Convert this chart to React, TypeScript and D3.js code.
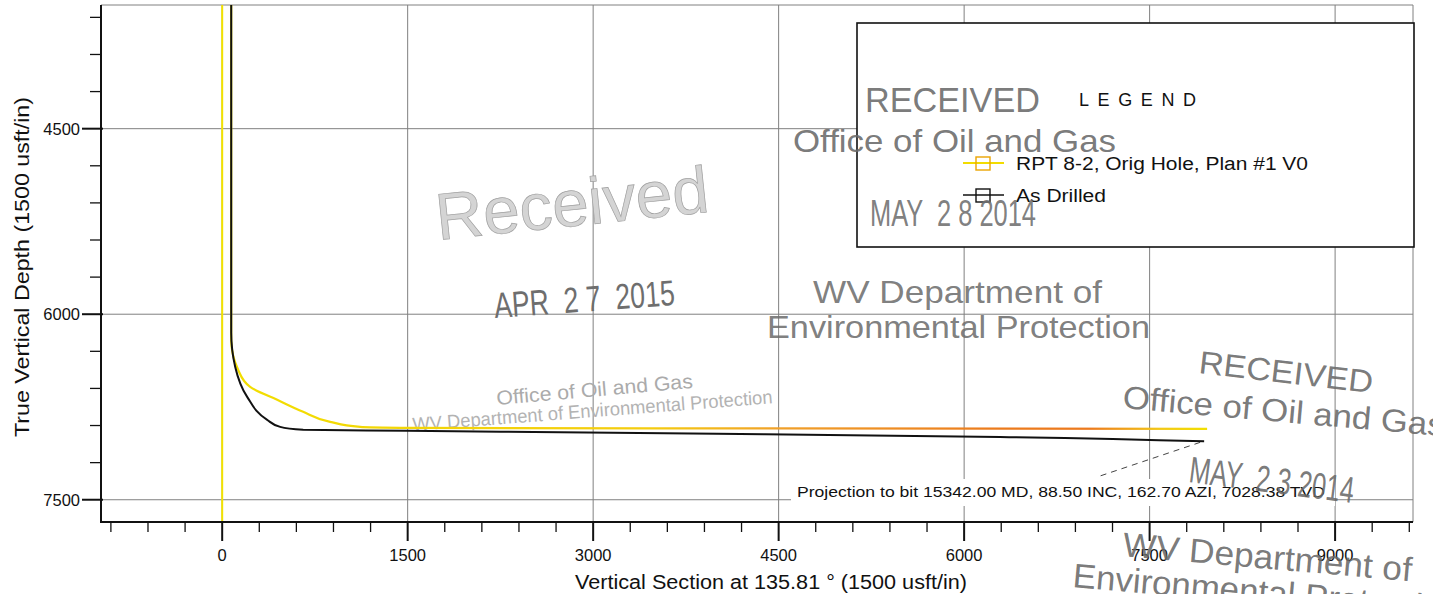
import React from 'react';
import * as d3 from 'd3';

const W = 1433;
const H = 594;

// axis domains (usft)
const xDomain = [-980, 9630];
const yDomain = [3500, 7680];

const xMajorTicks = [0, 1500, 3000, 4500, 6000, 7500, 9000];
const xMinorTicks = [-900, -600, -300, 300, 600, 900, 1200, 1800, 2100, 2400, 2700, 3300, 3600, 3900, 4200, 4800, 5100, 5400, 5700, 6300, 6600, 6900, 7200, 7800, 8100, 8400, 8700, 9300, 9600];
const yMajorTicks = [4500, 6000, 7500];
const yMinorTicks = [3600, 3900, 4200, 4800, 5100, 5400, 5700, 6300, 6600, 6900, 7200];

// Plan: RPT 8-2, Orig Hole, Plan #1 V0
const planVS = [73, 73, 129, 226, 445, 655, 873, 1116, 1520, 4000, 7965];
const planTVD = [3500, 6206, 6449, 6587, 6692, 6789, 6870, 6911, 6919, 6923, 6927];

// As Drilled
const drilledVS = [73, 73, 105, 202, 364, 469, 655, 1496, 4000, 6291, 7941];
const drilledTVD = [3500, 6149, 6424, 6668, 6854, 6911, 6935, 6943, 6967, 6992, 7028];

// vertical section origin line
const originVS = [0, 0];
const originTVD = [3500, 7680];

const legendLabels = ['RPT 8-2, Orig Hole, Plan #1 V0', 'As Drilled'];
const projectionText = 'Projection to bit 15342.00 MD, 88.50 INC, 162.70 AZI, 7028.38 TVD';

const FONT = "'Liberation Sans', Arial, Helvetica, sans-serif";

type Stamp = { t: string; x: number; y: number; r: number; fs: number; len: number; c: string; sw?: number };
const stamps: Stamp[] = [
  { t: 'Received', x: 438, y: 240, r: -5.9, fs: 66, len: 274, c: '#d4d4d4', sw: 0.7 },
  { t: 'APR  2 7  2015', x: 495, y: 318, r: -4.1, fs: 36, len: 181, c: '#6e6e6e' },
  { t: 'Office of Oil and Gas', x: 497, y: 405, r: -5, fs: 20, len: 197, c: '#ababab' },
  { t: 'WV Department of Environmental Protection', x: 413, y: 431, r: -4.4, fs: 19, len: 361, c: '#b3b3b3' },
  { t: 'RECEIVED', x: 865, y: 112, r: 0, fs: 35, len: 175, c: '#6a6a6a' },
  { t: 'Office of Oil and Gas', x: 793, y: 152, r: 0, fs: 32, len: 323, c: '#6a6a6a' },
  { t: 'MAY  2 8 2014', x: 870, y: 226, r: 0, fs: 37, len: 166, c: '#707070' },
  { t: 'WV Department of', x: 813, y: 303, r: 0, fs: 32, len: 289, c: '#707070' },
  { t: 'Environmental Protection', x: 767, y: 338, r: 0, fs: 32, len: 383, c: '#707070' },
  { t: 'RECEIVED', x: 1198, y: 373, r: 6.6, fs: 32, len: 175, c: '#6a6a6a' },
  { t: 'Office of Oil and Gas', x: 1122, y: 408, r: 5, fs: 32, len: 323, c: '#6a6a6a' },
  { t: 'MAY  2 3 2014', x: 1188, y: 482, r: 7.3, fs: 37, len: 166, c: '#6a6a6a' },
  { t: 'WV Department of', x: 1122, y: 556, r: 5, fs: 34, len: 290, c: '#6a6a6a' },
  { t: 'Environmental Protection', x: 1072, y: 587, r: 5, fs: 34, len: 390, c: '#6a6a6a' },
];

export default function App() {
  const x = d3.scaleLinear().domain(xDomain).range([101, 1413]);
  const y = d3.scaleLinear().domain(yDomain).range([5, 522]);

  const line = d3
    .line<[number, number]>()
    .x((d) => x(d[0]))
    .y((d) => y(d[1]))
    .curve(d3.curveMonotoneY);

  const planPts = planVS.map((v, i) => [v, planTVD[i]] as [number, number]);
  const drilledPts = drilledVS.map((v, i) => [v, drilledTVD[i]] as [number, number]);
  const originPts = originVS.map((v, i) => [v, originTVD[i]] as [number, number]);

  const x0 = x.range()[0];
  const x1 = x.range()[1];
  const y0 = y.range()[0];
  const y1 = y.range()[1];

  const endX = x(drilledVS[drilledVS.length - 1]);
  const endY = y(drilledTVD[drilledTVD.length - 1]);

  const gx1 = x(planVS[0]);
  const gx2 = x(planVS[planVS.length - 1]);
  const gOff = (px: number) => Math.max(0, Math.min(1, (px - gx1) / (gx2 - gx1)));

  return (
    <svg
      width={W}
      height={H}
      style={{ position: 'absolute', left: 0, top: 0, background: '#fff' }}
      fontFamily={FONT}
    >
      <defs>
        <linearGradient id="planGrad" gradientUnits="userSpaceOnUse" x1={gx1} x2={gx2} y1={0} y2={0}>
          <stop offset={0} stopColor="#f2de00" />
          <stop offset={gOff(650)} stopColor="#f4cc10" />
          <stop offset={gOff(780)} stopColor="#f0a02a" />
          <stop offset={gOff(1000)} stopColor="#eb7a1c" />
          <stop offset={gOff(1090)} stopColor="#ec7a1e" />
          <stop offset={gOff(1160)} stopColor="#f3c818" />
          <stop offset={1} stopColor="#f2e000" />
        </linearGradient>
        <clipPath id="plotClip">
          <rect x={x0} y={y0} width={x1 - x0} height={y1 - y0} />
        </clipPath>
      </defs>

      {/* grid */}
      <g stroke="#808080" strokeWidth={1}>
        {xMajorTicks.map((t) => (
          <line key={'gx' + t} x1={x(t)} x2={x(t)} y1={y0} y2={y1} />
        ))}
        {yMajorTicks.map((t) => (
          <line key={'gy' + t} x1={x0} x2={x1} y1={y(t)} y2={y(t)} />
        ))}
        <line x1={x0} x2={x1} y1={y0} y2={y0} />
        <line x1={x1} x2={x1} y1={y0} y2={y1} />
      </g>

      {/* stamps behind content (light ones) */}
      <g>
        {stamps.slice(0, 4).map((s, i) => (
          <text
            key={'sb' + i}
            transform={`translate(${s.x},${s.y}) rotate(${s.r})`}
            fontSize={s.fs}
            fill={s.c}
            stroke={s.sw ? '#a0a0a0' : 'none'}
            strokeWidth={s.sw || 0}
            textLength={s.len}
            lengthAdjust="spacingAndGlyphs"
            style={{ whiteSpace: 'pre' }}
          >
            {s.t}
          </text>
        ))}
      </g>

      {/* wells */}
      <g clipPath="url(#plotClip)" fill="none">
        <path d={line(originPts) || ''} stroke="#f2e200" strokeWidth={2} />
        <path d={line(planPts) || ''} stroke="url(#planGrad)" strokeWidth={2.2} />
        <path d={line(drilledPts) || ''} stroke="#111" strokeWidth={2} />
      </g>

      {/* projection annotation */}
      <line x1={endX - 4} y1={endY + 1} x2={1100} y2={476} stroke="#444" strokeWidth={1} strokeDasharray="6,5" />
      <rect x={791} y={479} width={544} height={27} fill="#fff" />
      <text x={797} y={497} fontSize={14.5} fill="#111" textLength={528} lengthAdjust="spacingAndGlyphs">
        {projectionText}
      </text>

      {/* axes */}
      <g stroke="#111">
        <line x1={x0} x2={x0} y1={y0} y2={y1 + 1} strokeWidth={2} />
        <line x1={x0 - 1} x2={x1} y1={y1} y2={y1} strokeWidth={2} />
        {yMajorTicks.map((t) => (
          <line key={'ym' + t} x1={82} x2={x0 + 2} y1={y(t)} y2={y(t)} strokeWidth={2} />
        ))}
        {yMinorTicks.map((t) => (
          <line key={'yn' + t} x1={90} x2={x0} y1={y(t)} y2={y(t)} strokeWidth={1.3} />
        ))}
        {xMajorTicks.map((t) => (
          <line key={'xm' + t} x1={x(t)} x2={x(t)} y1={y1} y2={y1 + 19} strokeWidth={2} />
        ))}
        {xMinorTicks.map((t) => (
          <line key={'xn' + t} x1={x(t)} x2={x(t)} y1={y1} y2={y1 + 10} strokeWidth={1.3} />
        ))}
      </g>
      <g fontSize={16.5} fill="#111">
        {yMajorTicks.map((t) => (
          <text key={'yl' + t} x={80} y={y(t) + 6} textAnchor="end">
            {t}
          </text>
        ))}
        {xMajorTicks.map((t) => (
          <text key={'xl' + t} x={x(t)} y={561} textAnchor="middle">
            {t}
          </text>
        ))}
      </g>
      <text
        transform="translate(29,267) rotate(-90)"
        textAnchor="middle"
        fontSize={19.5}
        fill="#111"
        textLength={340}
        lengthAdjust="spacingAndGlyphs"
      >
        True Vertical Depth (1500 usft/in)
      </text>
      <text x={771} y={589} textAnchor="middle" fontSize={19.5} fill="#111" textLength={392} lengthAdjust="spacingAndGlyphs">
        Vertical Section at 135.81 ° (1500 usft/in)
      </text>

      {/* legend */}
      <rect x={857} y={23} width={557} height={224} fill="#fff" stroke="#111" strokeWidth={1.6} />
      <text x={1079} y={106} fontSize={18} fill="#111" textLength={117} lengthAdjust="spacing">
        LEGEND
      </text>
      <g>
        <line x1={963} x2={1004} y1={163} y2={163} stroke="#f2dc00" strokeWidth={1.8} />
        <rect x={976} y={157} width={14} height={13} fill="none" stroke="#eba400" strokeWidth={1.4} />
        <text x={1016} y={170} fontSize={18} fill="#111" textLength={292} lengthAdjust="spacingAndGlyphs">
          {legendLabels[0]}
        </text>
        <line x1={963} x2={1004} y1={195} y2={195} stroke="#111" strokeWidth={1.6} />
        <rect x={976} y={189} width={14} height={13} fill="none" stroke="#111" strokeWidth={1.4} />
        <text x={1016} y={202} fontSize={18} fill="#111" textLength={90} lengthAdjust="spacingAndGlyphs">
          {legendLabels[1]}
        </text>
      </g>

      {/* stamps on top */}
      <g>
        {stamps.slice(4).map((s, i) => (
          <text
            key={'st' + i}
            transform={`translate(${s.x},${s.y}) rotate(${s.r})`}
            fontSize={s.fs}
            fill={s.c}
            fillOpacity={0.9}
            textLength={s.len}
            lengthAdjust="spacingAndGlyphs"
            style={{ whiteSpace: 'pre' }}
          >
            {s.t}
          </text>
        ))}
      </g>
    </svg>
  );
}
